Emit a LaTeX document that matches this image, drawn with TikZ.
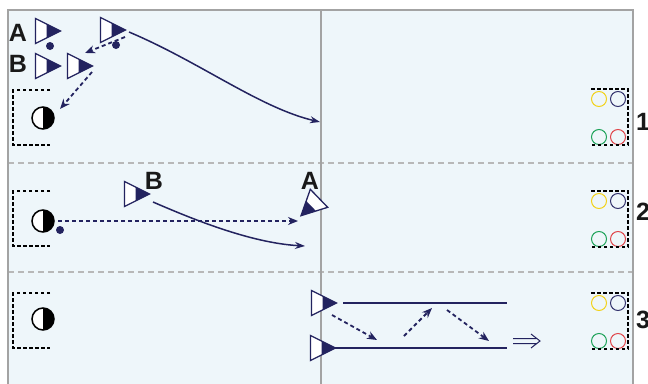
\documentclass[tikz,border=0pt]{standalone}
\usepackage{fontspec}
\newfontfamily\lblfont{Liberation Sans}
\usetikzlibrary{arrows.meta, positioning, calc}
\definecolor{fNavy}{HTML}{23235F}
\definecolor{fField}{HTML}{EEF6FA}
\definecolor{fGray}{HTML}{A3A3A3}
\definecolor{fDash}{HTML}{B8B8B8}
\definecolor{cYellow}{HTML}{F2D21B}
\definecolor{cGreen}{HTML}{1FA35A}
\definecolor{cRed}{HTML}{E0474C}
\definecolor{cBlue}{HTML}{34346E}

\tikzset{
  player/.pic={
    \filldraw[fill=white, draw=fNavy, line width=1.3pt] (-12.5,-12.5) -- (12.5,0) -- (-12.5,12.5) -- cycle;
    \fill[fNavy] (-1.5,-7) -- (12.5,0) -- (-1.5,7) -- cycle;
  },
  cone/.pic={
    \fill[white] (0,0) circle (11);
    \fill[black] (0,-11) arc[start angle=-90, end angle=90, radius=11] -- cycle;
    \draw[black, line width=1.5pt] (0,0) circle (11);
  },
}

\begin{document}
\begin{tikzpicture}[x=1pt, y=-1pt,
    lbl/.style={font=\lblfont\bfseries\fontsize{25}{25}\selectfont, text=black!90, inner sep=0pt},
    run/.style={fNavy, line width=1.5pt, -{Stealth[length=10pt, width=7pt]}},
    pass/.style={fNavy, line width=1.8pt, dash pattern=on 4pt off 3pt, -{Stealth[length=10pt, width=8pt]}},
    dotbox/.style={black, line width=1.8pt, dash pattern=on 3.5pt off 2.5pt},
    ring/.style={line width=1pt}]
  \useasboundingbox (0,0) rectangle (648,383);
  \clip (0,0) rectangle (648,383);

  % field
  \fill[fField] (8,10) rectangle (633,400);
  \draw[fDash, line width=1.5pt, dash pattern=on 6pt off 4pt] (8,163) -- (633,163) (8,272) -- (633,272);
  \draw[fGray, line width=1.5pt] (321,10) -- (321,400);
  \draw[fGray, line width=2pt] (8,400) -- (8,10) -- (633,10) -- (633,400);

  % goals on the right
  \foreach \y/\n/\t in {89/1/122, 191/2/212, 293/3/320} {
    \draw[ring, cYellow] (599,\y+10) circle (7.5);
    \draw[ring, cBlue] (618,\y+10) circle (7.5);
    \draw[ring, cGreen] (599,\y+48) circle (7.5);
    \draw[ring, cRed] (618,\y+48) circle (7.5);
    \draw[dotbox] (591,\y) -- (628,\y) -- (628,\y+56) -- (591,\y+56);
    \node[lbl, anchor=west] (num\n) at (636,\t) {\n};
  }

  % cones on the left
  \foreach \y in {90, 191, 293} {
    \draw[dotbox] (50,\y) -- (13,\y) -- (13,\y+55) -- (50,\y+55);
  }
  \coordinate (cone1) at (43,118);
  \coordinate (cone2) at (43,221);
  \coordinate (cone3) at (43,319);
  \foreach \c in {cone1, cone2, cone3} \pic at (\c) {cone};

  % --- part 1
  \node[lbl] (labA) at (18,33) {A};
  \node[lbl] (labB) at (18,64) {B};
  \coordinate (pA) at (48,31);
  \coordinate (pB1) at (48,66);
  \coordinate (pB2) at (80,66);
  \coordinate (pT) at (113,30);
  \foreach \p in {pA, pB1, pB2, pT} \pic at (\p) {player};
  \fill[fNavy] (50,46) circle (4) (116,45) circle (4);
  \draw[pass] ($(pT)+(12,7)$) -- ($(pB2)+(5,-13)$);
  \draw[pass] ($(pB2)+(12,6)$) -- ($(cone1)+(17,-9)$);
  \coordinate (end1) at (320,122);
  \draw[run] ($(pT)+(16,2)$) .. controls (200,62) and (260,108) .. (end1);

  % --- part 2
  \coordinate (pB) at (137,194);
  \coordinate (pA2) at (310,207);
  \pic at (pB) {player};
  \pic[rotate=-136] at (pA2) {player};
  \node[lbl] (labB2) at (154,181) {B};
  \node[lbl] (labA2) at (310,181) {A};
  \fill[fNavy] (60,230) circle (4);
  \coordinate (end2a) at (298,221);
  \coordinate (end2b) at (305,246);
  \draw[pass] ($(cone2)+(15,0)$) -- (end2a);
  \draw[run] ($(pB)+(16,8)$) .. controls (190,218) and (250,243) .. (end2b);

  % --- part 3
  \coordinate (pU) at (324,303);
  \coordinate (pL) at (323,348);
  \pic at (pU) {player};
  \pic at (pL) {player};
  \coordinate (topEnd) at (507,303);
  \coordinate (lowEnd) at (507,348);
  \draw[fNavy, line width=1.5pt] ($(pU)+(19,0)$) -- (topEnd);
  \draw[fNavy, line width=1.5pt] ($(pL)+(11,0)$) -- (lowEnd);
  \coordinate (w1) at (377,340);
  \coordinate (w2) at (404,336);
  \coordinate (w3) at (432,308);
  \coordinate (w4) at (447,310);
  \coordinate (w5) at (489,341);
  \draw[pass] ($(pU)+(8,12)$) -- (w1);
  \draw[pass] (w2) -- (w3);
  \draw[pass] (w4) -- (w5);
  % onward
  \coordinate (go1) at (513,341);
  \coordinate (go2) at (540,341);
  \draw[fNavy, line width=1pt]
    ($(go1)+(0,-2.5)$) -- ($(go2)+(-4,-2.5)$)
    ($(go1)+(0,2.5)$) -- ($(go2)+(-4,2.5)$)
    ($(go2)+(-9,-7)$) -- (go2) -- ($(go2)+(-9,7)$);
\end{tikzpicture}
\end{document}
